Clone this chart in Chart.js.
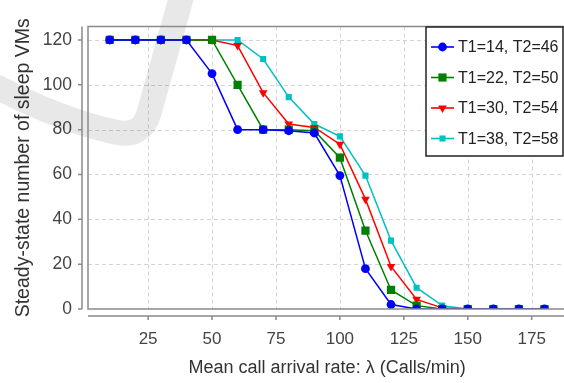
<!DOCTYPE html>
<html>
<head>
<meta charset="utf-8">
<script src="https://cdn.jsdelivr.net/npm/chart.js@4.4.1/dist/chart.umd.min.js"></script>
<style>
  html, body { margin: 0; padding: 0; background: #fff; overflow: hidden; }
  #wrap { width: 572px; height: 383px; }
</style>
</head>
<body>
<div id="wrap"><canvas id="chart" width="572" height="383"></canvas></div>
<script>
// arrival rate (calls/min)
const lambdas = [10, 20, 30, 40, 50, 60, 70, 80, 90, 100, 110, 120, 130, 140, 150, 160, 170, 180];

// steady-state number of sleep VMs per threshold pair
const sleepT14 = [120, 120, 120, 120, 105, 80, 80, 79.5, 78.5, 59.5, 18, 2, 0, 0, 0, 0, 0, 0];
const sleepT22 = [120, 120, 120, 120, 120, 100, 80, 80, 79.5, 67.5, 35, 8.5, 1.5, 0, 0, 0, 0, 0];
const sleepT30 = [120, 120, 120, 120, 120, 117.5, 96.5, 82.5, 81, 73.5, 49, 19, 4.3, 0.5, 0, 0, 0, 0];
const sleepT38 = [120, 120, 120, 120, 120, 120, 111.5, 94.5, 82.5, 77, 59.5, 30.5, 9.5, 1.5, 0, 0, 0, 0];

const seriesLabels = ['T1=14, T2=46', 'T1=22, T2=50', 'T1=30, T2=54', 'T1=38, T2=58'];
const xTicks = [25, 50, 75, 100, 125, 150, 175];
const yTicks = [0, 20, 40, 60, 80, 100, 120];

const FONT = "'Liberation Sans', Arial, sans-serif";

function mkSet(label, data, color, style, radius, rotation) {
  return {
    label: label,
    data: data.map((v, i) => ({ x: lambdas[i], y: v })),
    borderColor: color,
    backgroundColor: color,
    borderWidth: 1.5,
    pointStyle: style,
    pointRadius: radius,
    pointRotation: rotation || 0,
    pointBorderWidth: 0,
    pointHoverRadius: radius,
    tension: 0
  };
}

const datasets = [
  mkSet(seriesLabels[0], sleepT14, '#0000ff', 'circle', 4.4),
  mkSet(seriesLabels[1], sleepT22, '#008000', 'rect', 5.8),
  mkSet(seriesLabels[2], sleepT30, '#ff0000', 'triangle', 5, 180),
  mkSet(seriesLabels[3], sleepT38, '#00c0c0', 'rect', 4.3)
];

// dashed grid + gray watermark stroke behind the data
const backdrop = {
  id: 'backdrop',
  beforeDatasetsDraw(chart) {
    const ctx = chart.ctx;
    const a = chart.chartArea;
    const xs = chart.scales.x, ys = chart.scales.y;
    ctx.save();
    ctx.strokeStyle = '#d4d4d4';
    ctx.lineWidth = 1;
    ctx.setLineDash([4, 3]);
    ctx.beginPath();
    xTicks.forEach(t => {
      const p = Math.round(xs.getPixelForValue(t)) + 0.5;
      ctx.moveTo(p, a.top);
      ctx.lineTo(p, a.bottom);
    });
    yTicks.forEach(t => {
      if (t === 0) return;
      const p = Math.round(ys.getPixelForValue(t)) + 0.5;
      ctx.moveTo(a.left, p);
      ctx.lineTo(a.right, p);
    });
    ctx.stroke();
    ctx.setLineDash([]);

    ctx.strokeStyle = 'rgba(0,0,0,0.09)';
    ctx.lineWidth = 25;
    ctx.beginPath();
    ctx.moveTo(-5, 86);
    ctx.quadraticCurveTo(60, 120, 115, 132);
    ctx.quadraticCurveTo(142, 138, 149, 113);
    ctx.lineTo(182, -5);
    ctx.stroke();
    ctx.restore();
  }
};

// plot outline plus detached axis lines with outward ticks
const frame = {
  id: 'frame',
  afterDatasetsDraw(chart) {
    const ctx = chart.ctx;
    const a = chart.chartArea;
    const xs = chart.scales.x, ys = chart.scales.y;
    ctx.save();
    ctx.strokeStyle = '#8a8a8a';
    ctx.lineWidth = 1.5;
    ctx.strokeRect(a.left, a.top, a.right - a.left, a.bottom - a.top);

    const axX = a.left - 6, axY = a.bottom + 7;
    ctx.beginPath();
    ctx.moveTo(axX, a.top);
    ctx.lineTo(axX, a.bottom);
    yTicks.forEach(t => {
      const p = ys.getPixelForValue(t);
      ctx.moveTo(axX - 4, p);
      ctx.lineTo(axX, p);
    });
    ctx.moveTo(a.left, axY);
    ctx.lineTo(a.right, axY);
    xTicks.forEach(t => {
      const p = xs.getPixelForValue(t);
      ctx.moveTo(p, axY);
      ctx.lineTo(p, axY + 4);
    });
    ctx.stroke();
    ctx.restore();
  }
};

// boxed legend inside the plot, top right
const boxLegend = {
  id: 'boxLegend',
  afterDraw(chart) {
    const ctx = chart.ctx;
    const left = 426, top = 27, w = 137, h = 129;
    ctx.save();
    ctx.fillStyle = '#fff';
    ctx.fillRect(left, top, w, h);
    ctx.strokeStyle = '#222';
    ctx.lineWidth = 1.5;
    ctx.strokeRect(left, top, w, h);
    ctx.font = '16px ' + FONT;
    ctx.textBaseline = 'middle';
    ctx.textAlign = 'left';
    chart.data.datasets.forEach((ds, i) => {
      const y = 47 + i * 30.5;
      ctx.strokeStyle = ds.borderColor;
      ctx.lineWidth = 1.6;
      ctx.beginPath();
      ctx.moveTo(431, y);
      ctx.lineTo(454, y);
      ctx.stroke();
      ctx.fillStyle = ds.backgroundColor;
      Chart.helpers.drawPoint(ctx, {
        pointStyle: ds.pointStyle,
        radius: ds.pointRadius,
        rotation: ds.pointRotation,
        borderWidth: 0
      }, 442.5, y);
      ctx.fillStyle = '#222';
      ctx.fillText(ds.label, 458, y + 1);
    });
    ctx.restore();
  }
};

new Chart(document.getElementById('chart'), {
  type: 'line',
  data: { datasets: datasets },
  plugins: [backdrop, frame, boxLegend],
  options: {
    responsive: false,
    animation: false,
    layout: { padding: { top: 21, right: 2, left: 0, bottom: 0 } },
    plugins: {
      legend: { display: false },
      tooltip: { enabled: false }
    },
    scales: {
      x: {
        type: 'linear',
        min: 1.5,
        max: 188.5,
        afterBuildTicks: s => { s.ticks = xTicks.map(v => ({ value: v })); },
        afterFit: s => { s.height = 74; },
        grid: { display: false, drawTicks: false },
        border: { display: false },
        ticks: {
          padding: 20,
          color: '#444',
          font: { family: FONT, size: 17 },
          maxRotation: 0
        },
        title: {
          display: true,
          text: 'Mean call arrival rate: \u03bb (Calls/min)',
          color: '#333',
          font: { family: FONT, size: 18 },
          padding: { top: 0, bottom: 4 }
        }
      },
      y: {
        type: 'linear',
        min: 0,
        max: 126,
        afterBuildTicks: s => { s.ticks = yTicks.map(v => ({ value: v })); },
        afterFit: s => { s.width = 88; },
        grid: { display: false, drawTicks: false },
        border: { display: false },
        ticks: {
          padding: 16,
          color: '#444',
          font: { family: FONT, size: 17.5 }
        },
        title: {
          display: true,
          text: 'Steady-state number of sleep VMs',
          color: '#333',
          font: { family: FONT, size: 19.5 },
          padding: { top: 12, bottom: 0 }
        }
      }
    }
  }
});
</script>
</body>
</html>
